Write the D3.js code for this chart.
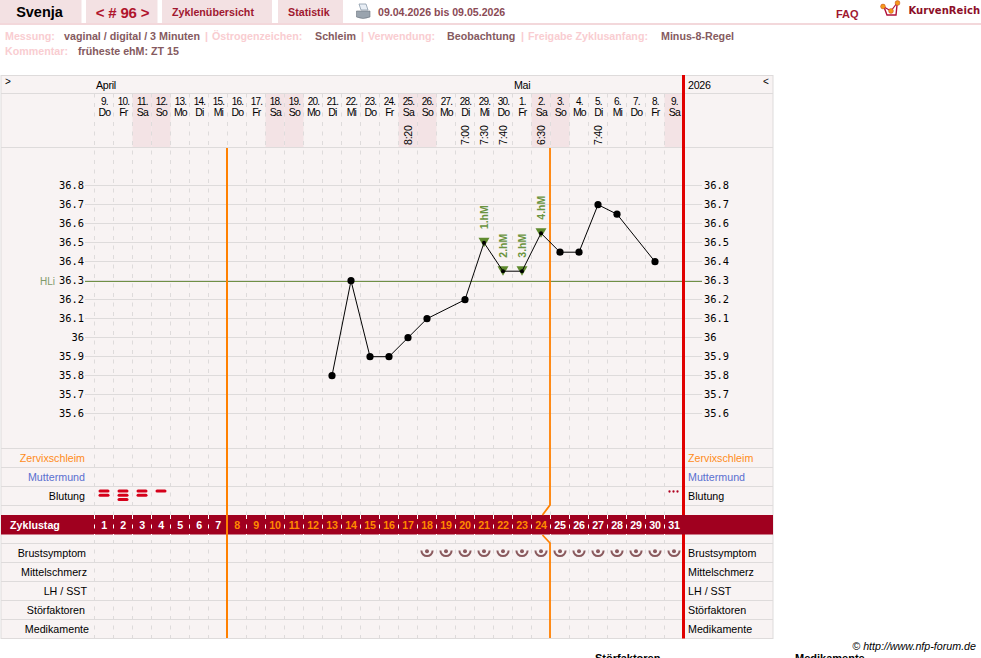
<!DOCTYPE html>
<html><head><meta charset="utf-8">
<script src="https://cdn.jsdelivr.net/npm/d3@7"></script>
<style>
html,body{margin:0;padding:0;background:#fff;overflow:hidden}
svg{display:block}
text{font-family:"Liberation Sans",Arial,sans-serif}
</style></head><body>
<svg id="c" width="981" height="658"></svg>
<script>
const cycleDays = d3.range(1, 32);
const dateNums = ["9","10","11","12","13","14","15","16","17","18","19","20","21","22","23","24","25","26","27","28","29","30","1","2","3","4","5","6","7","8","9"];
const weekdays = ["Do","Fr","Sa","So","Mo","Di","Mi","Do","Fr","Sa","So","Mo","Di","Mi","Do","Fr","Sa","So","Mo","Di","Mi","Do","Fr","Sa","So","Mo","Di","Mi","Do","Fr","Sa"];
const tempDays = [13,14,15,16,17,18,20,21,22,23,24,25,26,27,28,30];
const tempValues = [35.8,36.3,35.9,35.9,36.0,36.1,36.2,36.5,36.35,36.35,36.55,36.45,36.45,36.7,36.65,36.4];
const timeDays = [17,20,21,22,24,27];
const timeLabels = ["8:20","7:00","7:30","7:40","6:30","7:40"];
const hmDays = [21,22,23,24];
const hmLabels = ["1.hM","2.hM","3.hM","4.hM"];
const bleedDays = [1,2,3,4];
const bleedLevels = [2,3,2,1];
const spottingDays = [31];
const breastDays = d3.range(18, 32);
const tempTicks = [36.8,36.7,36.6,36.5,36.4,36.3,36.2,36.1,36,35.9,35.8,35.7,35.6];
const hlValue = 36.3;
const infertileEnd = 7, fertileEnd = 24;

const svg = d3.select("#c");
const bg="#f8f3f3", grid="#dedbdb", pink="#f3e1e3", wine="#a0001f", red="#e00000", orange="#ff8000", soft="#855a60", light="#f9cdd1";
const x = d3.scaleBand().domain(cycleDays).range([94.5,683.5]);
const cx = d => x(d)+x.bandwidth()/2;
const y = d3.scaleLinear().domain([35.6,36.8]).range([413,185]);

function T(g,tx,ty,s,o={}){
  const t=g.append("text").attr("x",tx).attr("y",ty).text(s)
    .attr("font-size",o.size||11).attr("fill",o.fill||"#000").attr("font-weight",o.bold?"bold":null)
    .attr("text-anchor",o.anchor||"start");
  if(o.ls!==undefined) t.attr("letter-spacing",o.ls);
  if(o.family) t.style("font-family",o.family);
  if(o.style) t.attr("font-style",o.style);
  return t;
}
// ---- top navigation
const nav=svg.append("g");
[[0,81.5],[86,71.5],[162,110],[278,65]].forEach(r=>nav.append("rect").attr("x",r[0]).attr("y",0).attr("width",r[1]).attr("height",23).attr("fill",pink));
nav.append("rect").attr("x",0).attr("y",23).attr("width",981).attr("height",2).attr("fill","#f3d8db");
T(nav,39.5,17,"Svenja",{size:14.5,bold:true,anchor:"middle"});
T(nav,122.5,18,"< # 96 >",{size:15,bold:true,anchor:"middle",fill:"#b0142c",ls:-.2});
T(nav,172,16,"Zyklenübersicht",{size:10.7,bold:true,fill:"#a01830"});
T(nav,288,16,"Statistik",{size:10.7,bold:true,fill:"#a01830"});
T(nav,378,16,"09.04.2026 bis 09.05.2026",{size:10.6,bold:true,fill:"#8a4a55"});
T(nav,836,18,"FAQ",{size:11,bold:true,fill:"#a01830"});
T(nav,908.5,14,"KurvenReich",{size:10,bold:true,fill:"#8c0f28",family:"'DejaVu Sans'"}).attr("textLength",71.5);
// printer icon
const pr=nav.append("g");
pr.append("path").attr("d","M359 4L366 4L368 10L361 10Z").attr("fill","#e8eef5").attr("stroke","#8a9aaa").attr("stroke-width",.8);
pr.append("path").attr("d","M356.5 11L370 11L370 17Q363 20 356.5 17Z").attr("fill","#9aa4ae").attr("stroke","#6d7680").attr("stroke-width",.6);
// logo icon
const lg=nav.append("g");
lg.append("path").attr("d","M884 7L887 15L896 15L897 5").attr("fill","none").attr("stroke","#b0103a").attr("stroke-width",1.4);
lg.append("path").attr("d","M884 7L891 11L897 3").attr("fill","none").attr("stroke","#b0103a").attr("stroke-width",1.2);
[[883,6.5],[891,11],[897.5,3]].forEach(p=>lg.append("circle").attr("cx",p[0]).attr("cy",p[1]).attr("r",2.4).attr("fill","#f59a1a").attr("stroke","#c0401a").attr("stroke-width",.5));

// ---- info rows
const info=svg.append("g");
const A={size:10.7,bold:true,fill:light}, B={size:10.7,bold:true,fill:soft};
T(info,5,40,"Messung:",A);T(info,64,40,"vaginal / digital / 3 Minuten",B);T(info,205,40,"|",A);
T(info,212,40,"Östrogenzeichen:",A);T(info,315,40,"Schleim",B);T(info,361,40,"|",A);
T(info,368,40,"Verwendung:",A);T(info,447,40,"Beobachtung",B);T(info,521,40,"|",A);
T(info,528,40,"Freigabe Zyklusanfang:",A);T(info,661,40,"Minus-8-Regel",B);
T(info,5,55,"Kommentar:",A);T(info,78,55,"früheste ehM: ZT 15",B);

// ---- chart frame
const f=svg.append("g");
f.append("rect").attr("x",1).attr("y",75.5).attr("width",772).attr("height",563).attr("fill",bg).attr("stroke",grid);
// weekend shading
f.selectAll("rect.we").data(cycleDays.filter((d,i)=>weekdays[i]==="Sa"||weekdays[i]==="So")).join("rect")
  .attr("x",d=>x(d)).attr("y",93.5).attr("width",x.bandwidth()).attr("height",54).attr("fill","#f3e3e5");
// horizontal rows
const rowLines=[93.5,147.5,448.5,467.5,486.5,505.5,543.5,562.5,581.5,600.5,619.5];
f.selectAll("line.r").data(rowLines).join("line").attr("x1",1).attr("x2",773).attr("y1",d=>d).attr("y2",d=>d).attr("stroke",grid);
// dashed day separators
f.selectAll("line.d").data(cycleDays).join("line").attr("x1",d=>x(d)).attr("x2",d=>x(d)).attr("y1",93.5).attr("y2",638)
  .attr("stroke",grid).attr("stroke-dasharray","4,5.5");

// ---- temperature axes
const axL=svg.append("g").attr("transform","translate(85,0)").call(d3.axisLeft(y).tickValues(tempTicks).tickFormat(d=>String(d)).tickSize(-617).tickPadding(1));
axL.select(".domain").remove();
axL.selectAll("line").attr("stroke",grid);
const axR=svg.append("g").attr("transform","translate(702,0)").call(d3.axisRight(y).tickValues(tempTicks).tickFormat(d=>String(d)).tickSize(0).tickPadding(2));
axR.select(".domain").remove();
svg.selectAll(".tick text").attr("font-size",10.4).attr("fill","#000").style("font-family","'DejaVu Sans Mono'").attr("dy",".36em");

// HL line
svg.append("line").attr("x1",85).attr("x2",702).attr("y1",y(hlValue)+1.5).attr("y2",y(hlValue)+1.5).attr("stroke","#6f8f45");
T(svg,40,285,"HLi",{size:10,fill:"#7f9a6a"});

// ---- orange + red verticals
const ov=svg.append("g").attr("stroke",orange).attr("stroke-width",2).attr("fill","none");
svg.append("line").attr("x1",683.5).attr("x2",683.5).attr("y1",75).attr("y2",638.5).attr("stroke",red).attr("stroke-width",3);

// ---- cycle-day band
svg.append("rect").attr("x",1).attr("y",515).attr("width",772).attr("height",19.5).attr("fill","#a0001f");
svg.selectAll("line.b").data(cycleDays).join("line").attr("x1",d=>x(d)).attr("x2",d=>x(d)).attr("y1",515).attr("y2",535)
  .attr("stroke","#fff").attr("stroke-dasharray","4,5.5");
T(svg,10,528.5,"Zyklustag",{size:10.7,bold:true,fill:"#fff"});
const isF=d=>d>infertileEnd&&d<=fertileEnd;
svg.selectAll("text.cd").data(cycleDays).join("text").attr("x",cx).attr("y",528.5).attr("text-anchor","middle")
  .attr("font-size",10.7).attr("font-weight","bold").attr("fill",d=>isF(d)?"#ff8a00":"#fff").attr("letter-spacing",-.3).text(d=>d);
const bx=x(infertileEnd+1)-.5, ex=x(fertileEnd+1)-.5;
ov.raise();
ov.append("line").attr("x1",bx).attr("x2",bx).attr("y1",148).attr("y2",638);
ov.append("path").attr("stroke-width",1.8).attr("d",`M${ex} 148V505L${ex-7.5} 515M${ex-7.5} 535L${ex} 543V638`);

// ---- header labels
const h=svg.append("g");
T(h,5,85,">",{size:10});T(h,96,89,"April",{size:10.7,ls:-.3});T(h,514,89,"Mai",{size:10.7,ls:-.3});
T(h,688,89,"2026",{size:10.7,ls:-.3});T(h,763,85,"<",{size:10});
h.selectAll("text.n").data(cycleDays).join("text").attr("x",d=>cx(d)+.4).attr("y",105).attr("text-anchor","middle")
  .attr("font-size",10).attr("letter-spacing",-.8).text((d,i)=>dateNums[i]+".");
h.selectAll("text.w").data(cycleDays).join("text").attr("x",d=>cx(d)+.4).attr("y",116).attr("text-anchor","middle")
  .attr("font-size",10.5).attr("letter-spacing",-.8).text((d,i)=>weekdays[i]);
h.selectAll("text.t").data(timeDays).join("text").attr("transform",d=>`translate(${cx(d)+4},145) rotate(-90)`)
  .attr("font-size",10.5).attr("letter-spacing",-.2).text((d,i)=>timeLabels[i]);

// ---- row labels
const lab=svg.append("g");
const leftRows=[["Zervixschleim",462,85,"#ff8c1a"],["Muttermund",481,85,"#5a6fd0"],["Blutung",500,85,"#000"],["Brustsymptom",557,86,"#000"],["Mittelschmerz",576,87,"#000"],["LH / SST",595,87,"#000"],["Störfaktoren",614,85,"#000"],["Medikamente",633,89,"#000"]];
leftRows.forEach(r=>{
  T(lab,r[2],r[1],r[0],{size:10.7,anchor:"end",fill:r[3]});
  T(lab,688,r[1],r[0],{size:10.7,fill:r[3]});
});

// ---- bleeding
const bl=svg.append("g");
bleedDays.forEach((d,i)=>{
  d3.range(bleedLevels[i]).forEach(k=>bl.append("rect").attr("x",cx(d)-5.5).attr("y",489.5+k*4.3).attr("width",11).attr("height",3).attr("rx",1.5).attr("fill","#d5001a"));
});
spottingDays.forEach(d=>[-4,0,4].forEach(o=>bl.append("circle").attr("cx",cx(d)+o-.5).attr("cy",491.5).attr("r",1.15).attr("fill","#b00020")));

// ---- breast symptom icons
const arc=d3.arc().innerRadius(4.6).outerRadius(6.6).startAngle(Math.PI/2).endAngle(Math.PI*1.5);
const br=svg.selectAll("g.br").data(breastDays).join("g").attr("transform",d=>`translate(${cx(d)},550.5)`);
br.append("path").attr("d",arc()).attr("fill","#8a5a5e");
br.append("circle").attr("cx",0).attr("cy",.8).attr("r",2).attr("fill","#8a5a5e");

// ---- temperature curve
const py=v=>y(v)+.7;
const line=d3.line().x((d,i)=>cx(tempDays[i])).y(d=>py(d));
const valOf=d=>tempValues[tempDays.indexOf(d)];
svg.selectAll("path.tri").data(hmDays).join("path")
  .attr("d",d=>{const X=cx(d),Y=py(valOf(d));return `M${X-5.5} ${Y-5}L${X+5.5} ${Y-5}L${X} ${Y+4.5}Z`;}).attr("fill","#5f8a2e");
svg.append("path").attr("d",line(tempValues)).attr("fill","none").attr("stroke","#000").attr("stroke-width",1);
svg.selectAll("circle.p").data(tempDays).join("circle").attr("cx",d=>cx(d)).attr("cy",d=>py(valOf(d)))
  .attr("r",d=>hmDays.includes(d)?2:3.6).attr("fill","#000");
svg.selectAll("text.hm").data(hmDays).join("text")
  .attr("transform",d=>`translate(${cx(d)+4},${py(valOf(d))-13.5}) rotate(-90)`)
  .attr("font-size",10.5).attr("font-weight","bold").attr("fill","#6a9440").text((d,i)=>hmLabels[i]);

// ---- footer
T(svg,976,650,"© http://www.nfp-forum.de",{size:10.7,anchor:"end",style:"italic"});
T(svg,595,662,"Störfaktoren",{size:11,bold:true});
T(svg,795,662,"Medikamente",{size:11,bold:true});
</script></body></html>
